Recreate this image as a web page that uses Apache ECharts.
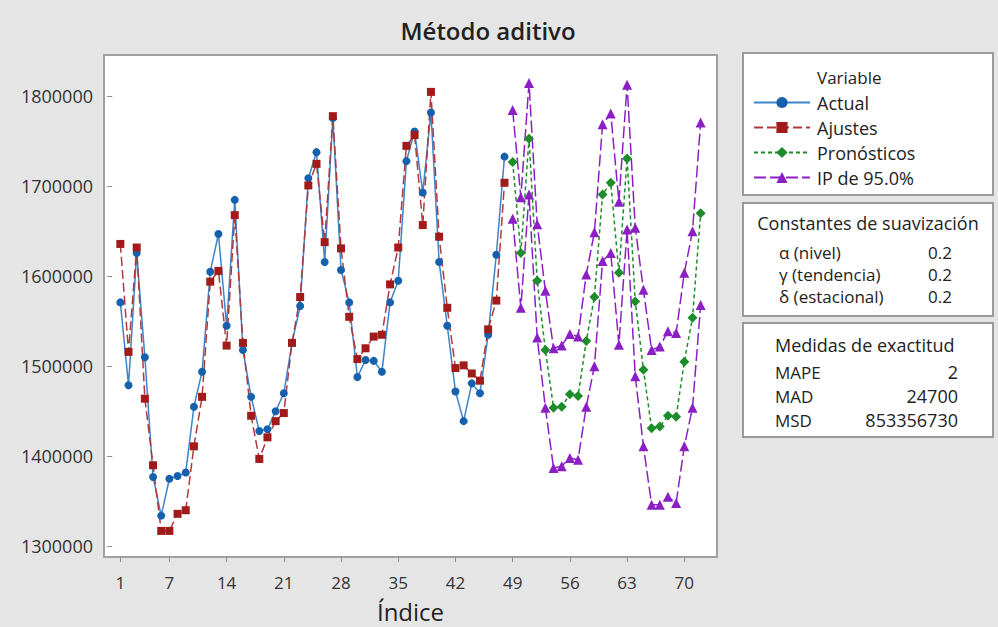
<!DOCTYPE html>
<html>
<head>
<meta charset="utf-8">
<script src="https://cdn.jsdelivr.net/npm/echarts@6/dist/echarts.min.js"></script>
<style>
html, body { margin: 0; padding: 0; background: #e5e5e5; }
#main { width: 998px; height: 627px; }
</style>
</head>
<body>
<div id="main"></div>
<script>
var actual = [1571000, 1479000, 1626000, 1510000, 1377000, 1334000, 1375000, 1378000,
	1382000, 1455000, 1494000, 1605000, 1647000, 1545000, 1685000, 1518000,
	1466000, 1428000, 1430000, 1450000, 1470000, 1526000, 1567000, 1709000,
	1738000, 1616000, 1776000, 1607000, 1571000, 1488000, 1507000, 1506000,
	1494000, 1571000, 1595000, 1728000, 1761000, 1693000, 1782000, 1616000,
	1545000, 1472000, 1439000, 1481000, 1470000, 1535000, 1624000, 1733000];
var ajustes = [1636000, 1516000, 1632000, 1464000, 1390000, 1317000, 1317000, 1336000,
	1340000, 1411000, 1466000, 1594000, 1606000, 1523000, 1668000, 1526000,
	1445000, 1397000, 1421000, 1439000, 1448000, 1526000, 1577000, 1701000,
	1725000, 1638000, 1778000, 1631000, 1555000, 1508000, 1520000, 1533000,
	1535000, 1591000, 1632000, 1745000, 1757000, 1657000, 1805000, 1644000,
	1565000, 1498000, 1501000, 1492000, 1484000, 1541000, 1573000, 1704000];
var pronosticos = [1727000, 1626000, 1753000, 1595000, 1518000, 1454000, 1455000, 1469000,
	1467000, 1528000, 1577000, 1691000, 1704000, 1604000, 1731000, 1572000,
	1496000, 1431000, 1433000, 1445000, 1444000, 1505000, 1554000, 1670000];
var ipSuperior = [1785000, 1688000, 1815000, 1658000, 1584000, 1520000, 1523000, 1536000,
	1533000, 1602000, 1649000, 1769000, 1781000, 1683000, 1813000, 1654000,
	1585000, 1518000, 1522000, 1539000, 1537000, 1604000, 1650000, 1771000];
var ipInferior = [1664000, 1565000, 1691000, 1532000, 1454000, 1387000, 1389000, 1398000,
	1396000, 1455000, 1500000, 1617000, 1626000, 1524000, 1652000, 1489000,
	1411000, 1346000, 1346000, 1355000, 1348000, 1411000, 1454000, 1568000];

var xTicks = [1, 7, 14, 21, 28, 35, 42, 49, 56, 63, 70];
var yTicks = [1300000, 1400000, 1500000, 1600000, 1700000, 1800000];

var constLabels = ['α (nivel)', 'γ (tendencia)', 'δ (estacional)'];
var constValues = ['0.2', '0.2', '0.2'];
var medLabels = ['MAPE', 'MAD', 'MSD'];
var medValues = ['2', '24700', '853356730'];

var FONT = '"Open Sans", "Noto Sans", sans-serif';

// convierte un arreglo en pares [indice, valor]
function toPairs(arr, start) {
	var out = [];
	for (var i = 0; i < arr.length; i++) {
		out.push([start + i, arr[i]]);
	}
	return out;
}

var myChart = echarts.init(document.getElementById('main'), null, { renderer: 'svg' });

var boxStyle = { fill: '#fff', stroke: '#9a9a9a', lineWidth: 2 };
var graphics = [
	{ type: 'rect', shape: { x: 743, y: 53, width: 250, height: 142 }, style: boxStyle, z: 0 },
	{ type: 'rect', shape: { x: 743, y: 203, width: 250, height: 113 }, style: boxStyle, z: 0 },
	{ type: 'rect', shape: { x: 743, y: 323, width: 250, height: 114 }, style: boxStyle, z: 0 },
	{ type: 'text', x: 817, y: 77, z: 5,
		style: { text: 'Variable', font: '17px ' + FONT, fill: '#222', verticalAlign: 'middle' } },
	{ type: 'text', x: 868, y: 223, z: 5,
		style: { text: 'Constantes de suavización', font: '18px ' + FONT, fill: '#222', align: 'center', verticalAlign: 'middle' } },
	{ type: 'text', x: 775, y: 345, z: 5,
		style: { text: 'Medidas de exactitud', font: '18px ' + FONT, fill: '#222', verticalAlign: 'middle' } }
];
for (var i = 0; i < constLabels.length; i++) {
	graphics.push({ type: 'text', x: 779, y: 252 + i * 22, z: 5,
		style: { text: constLabels[i], font: '17px ' + FONT, fill: '#222', verticalAlign: 'middle' } });
	graphics.push({ type: 'text', x: 952, y: 252 + i * 22, z: 5,
		style: { text: constValues[i], font: '17px ' + FONT, fill: '#222', align: 'right', verticalAlign: 'middle' } });
}
for (var i = 0; i < medLabels.length; i++) {
	graphics.push({ type: 'text', x: 775, y: 372 + i * 24, z: 5,
		style: { text: medLabels[i], font: '17px ' + FONT, fill: '#222', verticalAlign: 'middle' } });
	graphics.push({ type: 'text', x: 958, y: 372 + i * 24, z: 5,
		style: { text: medValues[i], font: '18px ' + FONT, fill: '#222', align: 'right', verticalAlign: 'middle' } });
}

myChart.setOption({
	animation: false,
	backgroundColor: '#e5e5e5',
	textStyle: { fontFamily: FONT },
	title: {
		text: 'Método aditivo',
		left: 483,
		textAlign: 'center',
		top: 13,
		textStyle: { fontSize: 24, fontWeight: 600, color: '#222', fontFamily: FONT }
	},
	grid: {
		left: 104, right: 281, top: 55, bottom: 70,
		outerBoundsMode: 'none',
		show: true,
		backgroundColor: '#fff',
		borderColor: '#a0a0a0',
		borderWidth: 2
	},
	legend: {
		orient: 'vertical',
		left: 748,
		top: 87,
		itemWidth: 56,
		itemHeight: 14,
		itemGap: 4,
		data: ['Actual', 'Ajustes', 'Pronósticos', 'IP de 95.0%'],
		lineStyle: { width: 2 },
		textStyle: { fontSize: 18, color: '#222', lineHeight: 21, padding: [0, 0, 0, 2] }
	},
	graphic: graphics,
	xAxis: {
		type: 'value',
		min: -1,
		max: 74,
		name: 'Índice',
		nameLocation: 'middle',
		nameGap: 42,
		nameTextStyle: { fontSize: 24, color: '#222' },
		splitLine: { show: false },
		axisLine: { show: false },
		axisTick: { show: true, length: 5, customValues: xTicks, lineStyle: { color: '#8c8c8c' } },
		axisLabel: { customValues: xTicks, fontSize: 17, color: '#333', margin: 17 }
	},
	yAxis: {
		type: 'value',
		min: 1288000,
		max: 1846000,
		splitLine: { show: false },
		axisLine: { show: false },
		axisTick: { show: true, length: 5, customValues: yTicks, lineStyle: { color: '#8c8c8c' } },
		axisLabel: {
			customValues: yTicks, fontSize: 18, color: '#333', margin: 11,
			formatter: function (v) { return String(v); }
		}
	},
	series: [
		{
			name: 'Actual', type: 'line', data: toPairs(actual, 1),
			symbol: 'circle', symbolSize: 8,
			itemStyle: { color: '#1561ad' },
			lineStyle: { color: '#3d84c9', width: 1.5 }
		},
		{
			name: 'Ajustes', type: 'line', data: toPairs(ajustes, 1),
			symbol: 'rect', symbolSize: 8,
			itemStyle: { color: '#a11b1b' },
			lineStyle: { color: '#b0393b', width: 1.5, type: [9, 4] }
		},
		{
			name: 'Pronósticos', type: 'line', data: toPairs(pronosticos, 49),
			symbol: 'diamond', symbolSize: 10,
			itemStyle: { color: '#1d8c2a' },
			lineStyle: { color: '#1d8c2a', width: 1.5, type: [4, 3] }
		},
		{
			name: 'IP de 95.0%', type: 'line', data: toPairs(ipSuperior, 49),
			symbol: 'triangle', symbolSize: 10,
			itemStyle: { color: '#8b1fc4' },
			lineStyle: { color: '#8b1fc4', width: 1.5, type: [12, 4] }
		},
		{
			name: 'IP de 95.0%', type: 'line', data: toPairs(ipInferior, 49),
			symbol: 'triangle', symbolSize: 10,
			itemStyle: { color: '#8b1fc4' },
			lineStyle: { color: '#8b1fc4', width: 1.5, type: [12, 4] }
		}
	]
});
</script>
</body>
</html>
